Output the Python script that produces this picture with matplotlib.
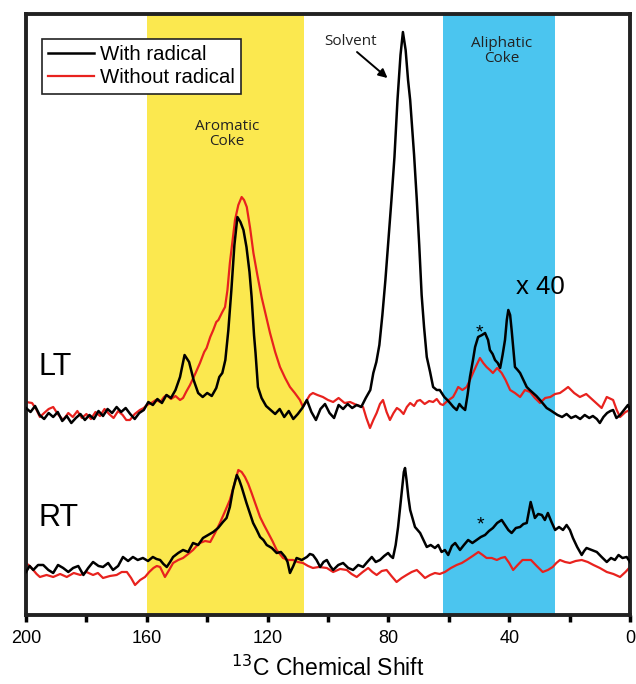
import numpy as np
import matplotlib
matplotlib.use("Agg")
import matplotlib.pyplot as plt

plt.rcParams['font.family'] = ['Liberation Sans', 'DejaVu Sans']

# ppm / intensity pairs (LT trace sits above RT)
lt_black_ppm = [200, 198.5, 197, 195.5, 194, 192.5, 191, 189.5, 188, 186.5, 185, 183.5, 182, 180.5, 179, 177.5,
                176, 174.5, 173, 171.5, 170, 168.5, 167, 165.5, 164, 162.5, 161, 159.5, 158, 156.5, 155, 153.5,
                152, 150.5, 149, 147.5, 146, 144.5, 143, 141.5, 140, 138.5, 137, 136, 135, 134, 133, 132, 131,
                130, 129, 128, 127, 126, 125.3, 124.5, 124, 123.2, 122, 120.5, 119, 117.5, 116, 114.5, 113,
                111.5, 110, 108.5, 107, 105.5, 104, 102.5, 101, 99.5, 98, 96.5, 95, 93.5, 92, 90.5, 89, 87.5,
                86, 85, 84, 83, 82, 81, 80, 79, 78, 77, 76, 75.2, 74.3, 73.5, 72.8, 71.5, 70.6, 69.8, 69, 68.2,
                67.3, 66.2, 65.2, 64, 63, 61.5, 60.5, 59.6, 58.5, 57.4, 56.5, 55.7, 54.6, 53.8, 53, 52, 51.3,
                50.3, 49, 48, 47, 46.4, 45.5, 44.7, 43.8, 43, 42.2, 41.4, 40.8, 40.3, 39.7, 39.2, 38.6, 38.1,
                37.2, 36.4, 35.3, 34.2, 33.2, 32.1, 31, 29.8, 28.7, 27.6, 26.5, 25.5, 24, 22.5, 21, 19.5, 18,
                16.5, 15, 13.5, 12.3, 11, 10, 8.8, 7.6, 6.5, 5.6, 4.5, 3.3, 2, 0.7, 0]
lt_black = [207, 203, 209, 200, 196, 202, 198, 203, 194, 199, 192, 197, 201, 195, 200, 196,
            204, 199, 206, 202, 208, 203, 207, 201, 196, 202, 205, 213, 210, 216, 212, 220,
            217, 225, 238, 260, 253, 235, 222, 218, 222, 219, 227, 238, 242, 255, 285, 325, 370,
            398, 393, 385, 368, 343, 318, 280, 262, 228, 217, 209, 205, 201, 206, 198, 204,
            196, 201, 207, 215, 203, 195, 206, 211, 202, 197, 210, 206, 211, 207, 210, 208, 217,
            225, 242, 253, 270, 300, 335, 375, 415, 458, 515, 560, 583, 565, 535, 515, 460, 415, 370, 320, 288,
            258, 243, 228, 225, 225, 218, 215, 212, 208, 205, 211, 208, 205, 220, 238, 255, 268,
            278, 280, 282, 275, 265, 261, 255, 252, 247, 260, 275, 295, 305, 300, 285, 265, 248,
            245, 242, 235, 228, 225, 222, 219, 215, 211, 207, 205, 203, 200, 198, 201, 197, 199,
            196, 200, 197, 199, 196, 192, 198, 202, 204, 205, 197, 200, 205, 210, 205]

lt_red_ppm = [200, 198, 196.5, 195.4, 194, 192.5, 191, 189.5, 187.7, 186, 184.5, 183, 181.5, 180, 178.5, 177,
              175.5, 174, 172.5, 171, 169.5, 168, 166.8, 165.6, 164, 162.3, 161, 160, 158.5, 157, 155.5,
              154.3, 153.4, 152, 150.5, 149, 148, 147, 145.7, 144, 142.4, 141, 140.2, 139, 138, 137, 136.3,
              135, 134.1, 133.3, 132.5, 131.6, 130.8, 129.7, 128.6, 127.8, 126.9, 125.8, 124.7, 123.4, 122,
              120.6, 119.2, 117.5, 115.9, 114.2, 112.6, 111, 109.3, 108.3, 107, 106, 105, 103.5, 101.7, 100,
              98.3, 96.5, 94.5, 92.7, 90.5, 88.4, 87.3, 86.1, 85, 83.9, 82.8, 81.8, 80.6, 79.5, 78.3, 77.2,
              76.2, 75, 73.9, 72.8, 71.5, 70.5, 69.5, 68, 66.5, 65.2, 64, 62.8, 61.9, 60.5, 58.6, 57.7, 56.9,
              55.5, 54.1, 53, 52, 50.8, 49.7, 48.6, 47.5, 46.4, 45.4, 44, 42.5, 41.2, 39.7, 38.1, 36.4, 34.8,
              33.1, 31.5, 29.8, 28.1, 26.4, 24.8, 23.2, 21.8, 20.5, 18.5, 16.6, 14.5, 12.3, 10.8, 9.4, 7.7,
              5.6, 4.4, 3.3, 1.5, 0]
lt_red = [213, 212, 205, 198, 202, 206, 208, 201, 195, 202, 198, 204, 197, 201, 196, 203,
          199, 206, 201, 197, 204, 200, 195, 195, 201, 205, 207, 210, 212, 215, 213,
          218, 220, 216, 219, 215, 217, 223, 230, 241, 252, 263, 267, 278, 285, 293, 295,
          303, 308, 325, 352, 375, 395, 410, 418, 415, 408, 387, 362, 340, 318,
          300, 282, 263, 248, 237, 228, 222, 215, 208, 215, 220, 222, 220, 218, 215,
          213, 217, 212, 213, 210, 208, 197, 187, 195, 202, 211, 215, 203, 195, 202, 207,
          205, 201, 208, 212, 209, 214, 215, 211, 214, 213, 216, 211, 210, 214, 218, 223, 228,
          225, 228, 235, 242, 250, 257, 252, 248, 245, 242, 247, 242, 235, 225, 222, 218, 225,
          223, 217, 212, 217, 218, 221, 222, 225, 228, 222, 218, 221, 215, 211, 207, 218,
          215, 205, 198, 203, 205]

rt_black_ppm = [200, 198.8, 197.6, 196, 194.3, 192.6, 191, 189.4, 187.7, 186, 184.4, 182.7, 181, 179.4, 177.8,
                176, 174.5, 172.8, 171.2, 169.5, 167.9, 166.2, 164.6, 163, 161.3, 159.6, 158, 156.8, 155.6,
                154.5, 153.4, 152.3, 151.3, 149.6, 148, 146.3, 144.7, 143, 141.4, 139.7, 138, 136.4, 134.8,
                133.6, 132.5, 131.5, 130.2, 129.4, 128.6, 127.8, 127, 125.9, 124.8, 123.6, 122.5, 121.4,
                120.3, 118.6, 117, 115.6, 114.2, 113.4, 112.6, 111.5, 110.4, 108.7, 107, 106, 105, 103.8,
                102.6, 101.5, 100.4, 99.3, 98.3, 96.6, 95, 93.3, 91.7, 90, 88.4, 87, 85.5, 84.2, 82.8, 81.4,
                80.1, 79.3, 78.5, 77.6, 76.8, 75.7, 74.9, 74.5, 74, 73.4, 72.8, 71.2, 69.5, 68.4, 67.3, 66,
                64.6, 63.5, 62.4, 61.3, 60.2, 59, 57.9, 56.3, 55, 53.6, 52.2, 50.8, 49.4, 48, 46.7, 45.4, 44,
                42.5, 41.4, 40.3, 39.2, 37.8, 36.4, 35.3, 34.2, 33.5, 32.9, 32.2, 31.5, 30.4, 29.2, 28.2,
                27.2, 26, 24.8, 23.5, 22.2, 21, 19.9, 18.9, 17.5, 16, 15.2, 14.4, 12.7, 11, 9.4, 7.7, 6.3, 5,
                3.8, 2.5, 1.1, 0]
rt_black = [43, 49, 45, 50, 50, 45, 42, 50, 47, 43, 47, 49, 40, 47, 53,
            49, 48, 52, 45, 49, 58, 54, 58, 55, 57, 54, 58, 56, 55,
            51, 48, 53, 58, 62, 65, 63, 72, 70, 77, 80, 83, 87, 93,
            97, 108, 125, 140, 135, 128, 120, 112, 102, 92, 85, 78, 75,
            70, 67, 62, 63, 58, 53, 42, 49, 57, 55, 58, 61, 60, 55,
            48, 53, 55, 49, 45, 50, 52, 47, 45, 50, 48, 53, 58, 53, 55, 59,
            62, 59, 57, 70, 88, 120, 143, 147, 135, 118, 105, 88, 82, 75, 68, 70,
            67, 70, 63, 65, 60, 69, 72, 65, 70, 75, 72, 75, 78, 80, 84, 87, 92,
            95, 90, 85, 82, 87, 88, 91, 92, 103, 113, 105, 97, 101, 100, 95,
            102, 93, 85, 88, 85, 90, 85, 77, 68, 60, 64, 67, 65, 63, 58, 53, 57, 55,
            60, 57, 58, 53]

rt_red_ppm = [200, 198.8, 197.6, 196.5, 195.4, 193.2, 191, 188.7, 186.5, 184.2, 182, 180, 177.8, 176.2, 174.5,
              172.2, 170, 168.3, 166.6, 165.2, 163.9, 162.2, 160.6, 159.2, 157.8, 156.7, 155.6, 154.8, 154,
              152.6, 151.3, 149.6, 148, 146.3, 144.7, 143.5, 142.4, 140.7, 139, 137.4, 135.8, 134.2, 132.5,
              131.1, 129.7, 128.6, 127.5, 126.4, 125.3, 123.9, 122.5, 121.2, 119.8, 118.4, 117, 114.9, 113.2,
              111.6, 110, 108.3, 106.6, 105, 103, 100.4, 98.3, 96, 93.8, 92.2, 90.5, 88.5, 86.7, 85.3, 83.9,
              82.2, 80.6, 79, 77.3, 75.6, 74, 72.3, 70.6, 69.2, 67.9, 66.2, 64.6, 63, 61.3, 59.3, 57.4, 55.7,
              54.1, 52.1, 50.2, 48.8, 47.5, 45.8, 44.1, 42.7, 41.4, 40, 38.7, 37.2, 35.6, 34.2, 32.8, 30.9,
              28.9, 27.2, 25.6, 24.4, 23.2, 21.5, 19.9, 18, 16, 14, 12.1, 10, 7.7, 5.5, 3.3, 1.5, 0]
rt_red = [52, 49, 45, 41, 38, 40, 38, 41, 38, 42, 40, 43, 40, 42, 37,
          39, 40, 43, 43, 37, 30, 35, 38, 43, 47, 49, 48, 43, 38,
          45, 52, 55, 57, 61, 65, 69, 72, 74, 73, 82, 92, 103, 115,
          130, 145, 143, 138, 131, 122, 110, 98, 90, 82, 74, 65, 57, 55,
          55, 53, 52, 49, 47, 48, 47, 43, 46, 45, 41, 38, 43, 47, 43, 40,
          44, 45, 39, 33, 37, 40, 43, 45, 41, 37, 40, 42, 41, 43, 47, 50, 52,
          55, 59, 63, 60, 57, 57, 55, 57, 58, 52, 45, 50, 55, 55, 55, 49,
          43, 45, 48, 52, 55, 53, 52, 54, 55, 53, 50, 47, 43, 41, 38, 43, 48]

aromatic_band = (160, 108)
aliphatic_band = (62, 25)

red = '#E8221E'

fig = plt.figure(figsize=(6.36, 6.84), dpi=100)
ax = fig.add_axes([0.0409, 0.1009, 0.9497, 0.8786])

ax.axvspan(*aromatic_band, color='#FBE84F', lw=0, zorder=0)
ax.axvspan(*aliphatic_band, color='#4BC5EF', lw=0, zorder=0)

ax.plot(lt_red_ppm, lt_red, color=red, lw=1.6, zorder=2)
ax.plot(lt_black_ppm, lt_black, color='black', lw=1.8, zorder=3, label='With radical')
ax.plot(rt_red_ppm, rt_red, color=red, lw=1.6, zorder=2, label='Without radical')
ax.plot(rt_black_ppm, rt_black, color='black', lw=1.8, zorder=3)

ax.set_xlim(200, 0)
ax.set_ylim(0, 601)
ax.set_yticks([])
ax.set_xticks([200, 160, 120, 80, 40, 0])
ax.set_xticks([180, 140, 100, 60, 20], minor=True)
ax.tick_params(axis='x', which='both', direction='out', length=5, width=2.5, labelsize=13, pad=6)
for s in ax.spines.values():
    s.set_linewidth(2.8)
    s.set_color('#222222')
ax.set_xlabel('$^{13}$C Chemical Shift', fontsize=16.5, labelpad=6)

leg = ax.legend(loc='upper left', bbox_to_anchor=(0.0265, 0.958),
                borderaxespad=0, fontsize=14.7, fancybox=False, framealpha=1,
                handlelength=2.25, handletextpad=0.3, borderpad=0.3, labelspacing=0.2)
leg.get_frame().set_edgecolor('#222222')
leg.get_frame().set_linewidth(1.2)

label_font = ['Open Sans', 'DejaVu Sans']
ax.text(133.4, 481, 'Aromatic\nCoke', ha='center', va='center', fontsize=11,
        family=label_font, color='#222222', linespacing=1.05)
ax.text(42.4, 564, 'Aliphatic\nCoke', ha='center', va='center', fontsize=11,
        family=label_font, color='#222222', linespacing=1.05)
ax.text(92.7, 574, 'Solvent', ha='center', va='center', fontsize=11,
        family=label_font, color='#222222')
ax.annotate('', xy=(80.3, 537), xytext=(90.4, 563),
            arrowprops=dict(arrowstyle='-|>', color='black', lw=1.4, mutation_scale=13,
                            shrinkA=0, shrinkB=0))
ax.text(29.8, 328, 'x 40', ha='center', va='center', fontsize=18.5)
ax.text(50, 282, '*', ha='center', va='center', fontsize=14)
ax.text(49.4, 90, '*', ha='center', va='center', fontsize=14)
ax.text(196, 248, 'LT', ha='left', va='center', fontsize=22)
ax.text(196, 97, 'RT', ha='left', va='center', fontsize=22)

fig.savefig('out.png', dpi=100)
